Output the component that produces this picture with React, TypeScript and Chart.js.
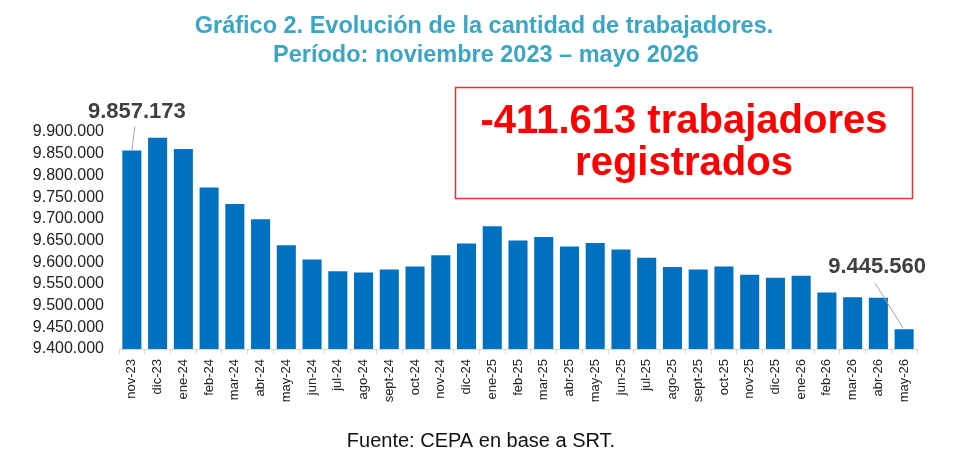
import { useEffect, useRef } from "react";
import Chart, { ChartConfiguration, Plugin } from "chart.js/auto";

const months = [
  "nov-23", "dic-23", "ene-24", "feb-24", "mar-24", "abr-24", "may-24", "jun-24",
  "jul-24", "ago-24", "sept-24", "oct-24", "nov-24", "dic-24", "ene-25", "feb-25",
  "mar-25", "abr-25", "may-25", "jun-25", "jul-25", "ago-25", "sept-25", "oct-25",
  "nov-25", "dic-25", "ene-26", "feb-26", "mar-26", "abr-26", "may-26",
];

const workers = [
  9857173, 9887000, 9861000, 9772000, 9734000, 9699000, 9639000, 9606000,
  9579000, 9576000, 9583000, 9590000, 9616000, 9643000, 9683000, 9650000,
  9658000, 9636000, 9644000, 9629000, 9610000, 9589000, 9583000, 9590000,
  9571000, 9564000, 9569000, 9530000, 9519000, 9518000, 9445560,
];

const titleLines = [
  "Gráfico 2. Evolución de la cantidad de trabajadores.",
  "Período: noviembre 2023 – mayo 2026",
];
const boxLines = ["-411.613 trabajadores", "registrados"];
const source = "Fuente: CEPA en base a SRT.";

const FONT = "Arial, 'Liberation Sans', sans-serif";

// 9400000 -> "9.400.000"
const fmt = (v: number) =>
  Math.round(v).toString().replace(/\B(?=(\d{3})+(?!\d))/g, ".");

const decorations: Plugin = {
  id: "decorations",
  afterDraw(chart) {
    const ctx = chart.ctx;
    ctx.save();

    // title
    ctx.fillStyle = "#3aa6c5";
    ctx.font = `bold 23.5px ${FONT}`;
    ctx.textAlign = "center";
    ctx.textBaseline = "alphabetic";
    ctx.fillText(titleLines[0], 484, 33);
    ctx.fillText(titleLines[1], 486, 62);

    // red box
    ctx.strokeStyle = "#e8322f";
    ctx.lineWidth = 1.5;
    ctx.strokeRect(455.5, 87.5, 457, 111);
    ctx.fillStyle = "#ff0000";
    ctx.font = `bold 40px ${FONT}`;
    ctx.fillText(boxLines[0], 684, 133);
    ctx.fillText(boxLines[1], 684, 175);

    // source
    ctx.fillStyle = "#111";
    ctx.font = `20px ${FONT}`;
    ctx.fillText(source, 481, 447);

    // first / last value labels with leader lines
    const meta = chart.getDatasetMeta(0);
    const first = meta.data[0];
    const last = meta.data[meta.data.length - 1];
    ctx.strokeStyle = "#a6a6a6";
    ctx.lineWidth = 1;
    ctx.beginPath();
    ctx.moveTo(first.x + 3, first.y - 24);
    ctx.lineTo(first.x, first.y);
    ctx.moveTo(last.x - 29, last.y - 46);
    ctx.lineTo(last.x - 1, last.y - 1);
    ctx.stroke();

    ctx.fillStyle = "#404040";
    ctx.font = `bold 22px ${FONT}`;
    ctx.fillText(fmt(workers[0]), first.x + 5, first.y - 33);
    ctx.fillText(fmt(workers[workers.length - 1]), last.x - 27, last.y - 56);

    ctx.restore();
  },
};

const App = () => {
  const chartRef = useRef<HTMLCanvasElement | null>(null);

  useEffect(() => {
    document.body.style.margin = "0";
    if (!chartRef.current) return;
    const ctx = chartRef.current.getContext("2d");
    if (!ctx) return;

    const config: ChartConfiguration = {
      type: "bar",
      data: {
        labels: months,
        datasets: [
          {
            data: workers,
            backgroundColor: "#0070c0",
            barPercentage: 0.74,
            categoryPercentage: 1,
          },
        ],
      },
      options: {
        animation: false,
        responsive: true,
        maintainAspectRatio: false,
        layout: { padding: { top: 132, right: 40, bottom: 58, left: 0 } },
        plugins: {
          legend: { display: false },
          tooltip: { enabled: false },
          title: { display: false },
        },
        scales: {
          x: {
            grid: {
              offset: true,
              drawOnChartArea: false,
              drawTicks: true,
              tickLength: 5,
              color: "#d9d9d9",
            },
            border: { color: "#d9d9d9" },
            ticks: {
              autoSkip: false,
              minRotation: 90,
              maxRotation: 90,
              padding: 5,
              color: "#222",
              font: { family: FONT, size: 13 },
            },
            afterFit: (scale) => {
              scale.height = 60;
            },
          },
          y: {
            min: 9400000,
            max: 9900000,
            grid: { display: false, drawTicks: false },
            border: { display: false },
            ticks: {
              stepSize: 50000,
              autoSkip: false,
              padding: 15,
              color: "#222",
              font: { family: FONT, size: 16 },
              callback: (v) => fmt(Number(v)),
            },
            afterFit: (scale) => {
              scale.width = 119;
            },
          },
        },
      },
      plugins: [decorations],
    };

    const chartInstance = new Chart(ctx, config);
    return () => {
      chartInstance.destroy();
    };
  }, []);

  return (
    <div style={{ position: "relative", width: 957, height: 467 }}>
      <canvas ref={chartRef}></canvas>
    </div>
  );
};

export default App;
